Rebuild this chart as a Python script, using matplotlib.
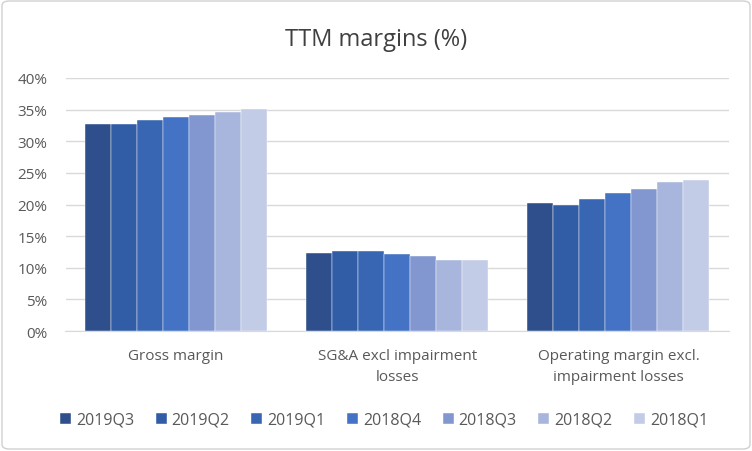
import matplotlib
matplotlib.use("Agg")
import matplotlib.pyplot as plt
from matplotlib.patches import FancyBboxPatch
import numpy as np

categories = ["Gross margin", "SG&A excl impairment\nlosses", "Operating margin excl.\nimpairment losses"]
series_names = ["2019Q3", "2019Q2", "2019Q1", "2018Q4", "2018Q3", "2018Q2", "2018Q1"]
values = {
    "2019Q3": [32.7, 12.3, 20.2],
    "2019Q2": [32.8, 12.6, 20.0],
    "2019Q1": [33.4, 12.6, 20.8],
    "2018Q4": [33.9, 12.2, 21.8],
    "2018Q3": [34.1, 11.8, 22.4],
    "2018Q2": [34.7, 11.3, 23.5],
    "2018Q1": [35.1, 11.3, 23.8],
}
colors = ["#2E4F8C", "#315DA6", "#3866B2", "#4472C4", "#8297CF", "#A8B5DC", "#C3CCE6"]
yticks = [0, 5, 10, 15, 20, 25, 30, 35, 40]

plt.rcParams['font.family'] = ['Open Sans', 'DejaVu Sans']
fig = plt.figure(figsize=(7.52, 4.52), dpi=100)
ax = fig.add_axes([65.5/752, 1-332/452, 663.5/752, 253/452])

x = np.arange(len(categories))
n = len(series_names)
w = 0.1176
for i, name in enumerate(series_names):
    ax.bar(x + (i - (n-1)/2) * w, values[name], width=w, color=colors[i],
           edgecolor='white', linewidth=0.3, label=name, zorder=3)

ax.set_ylim(0, 40)
ax.set_xlim(-0.5, 2.5)
ax.set_yticks(yticks)
ax.set_yticklabels([f"{t}%" for t in yticks], fontsize=11, color='#595959')
ax.set_xticks(x)
ax.set_xticklabels(categories, fontsize=11, color='#595959', linespacing=1.55)
ax.grid(axis='y', color='#D9D9D9', linewidth=1, zorder=0)
for s in ['top', 'right', 'left']:
    ax.spines[s].set_visible(False)
ax.spines['bottom'].set_color('#D9D9D9')
ax.tick_params(axis='x', length=0, pad=12)
ax.tick_params(axis='y', length=0, pad=13)

fig.text(0.5, 1-40/452, "TTM margins (%)", ha='center', va='center', fontsize=17, color='#404040')

leg = fig.legend(loc='center', bbox_to_anchor=(0.5 + 8/752, 1-421/452), ncol=7, frameon=False,
                 fontsize=11.5, handlelength=0.7, handleheight=0.7, columnspacing=1.35,
                 handletextpad=0.3)
for t in leg.get_texts():
    t.set_color('#595959')

border = FancyBboxPatch((2/752, 2/452), 1-4/752, 1-4/452, boxstyle="round,pad=0,rounding_size=0.01",
                        transform=fig.transFigure, fill=False, edgecolor='#D0D0D0', linewidth=1)
fig.patches.append(border)

fig.savefig("out.png", dpi=100)
